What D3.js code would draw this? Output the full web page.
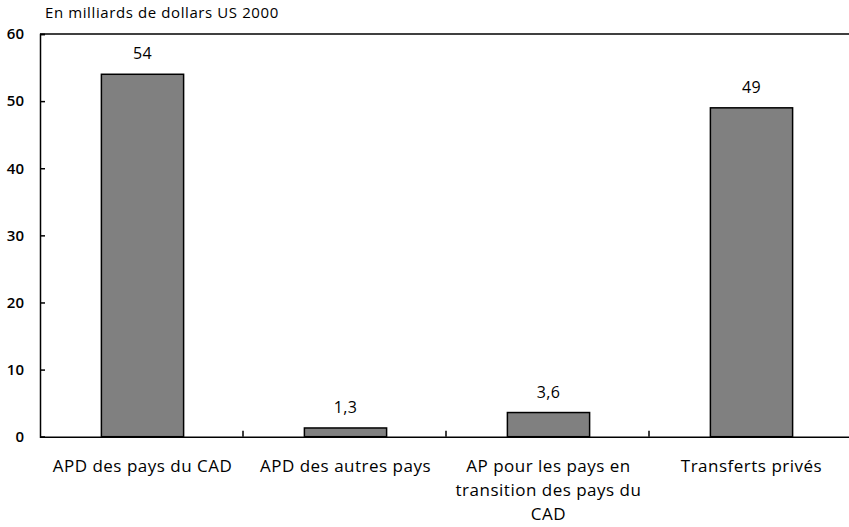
<!DOCTYPE html>
<html><head><meta charset="utf-8">
<script src="https://cdn.jsdelivr.net/npm/d3@7"></script>
<style>body{margin:0;background:#fff}svg{display:block}text{font-family:"Open Sans",sans-serif;fill:#000}</style>
</head><body><svg id="c" width="849" height="527"></svg>
<script>
const categories = ["APD des pays du CAD", "APD des autres pays", "AP pour les pays en\ntransition des pays du\nCAD", "Transferts privés"];
const values = [54, 1.3, 3.6, 49];
const valueLabels = ["54", "1,3", "3,6", "49"];
const yTicks = [0, 10, 20, 30, 40, 50, 60];
const unitLabel = "En milliards de dollars US 2000";

(function () {
const svg = d3.select("#c");
const pLeft = 40, pRight = 852, pTop = 34, pBottom = 436.7;
const x = d3.scaleBand().domain(categories).range([pLeft, pRight]);
const y = d3.scaleLinear().domain([0, 60]).range([pBottom, pTop]);
const barW = x.bandwidth() * 0.405;

svg.append("line").attr("x1", pLeft).attr("x2", pRight).attr("y1", y(60)).attr("y2", y(60))
  .attr("stroke", "#000").attr("stroke-width", 1.5);

const ya = svg.append("g").attr("transform", `translate(${pLeft},0)`)
  .call(d3.axisLeft(y).tickValues(yTicks).tickSize(-5).tickPadding(16).tickFormat(d3.format("d")));
ya.select(".domain").attr("stroke", "#000").attr("stroke-width", 1.5);
ya.selectAll(".tick line").attr("stroke", "#000").attr("stroke-width", 1.5);
ya.selectAll(".tick text").attr("font-size", 15).attr("font-family", "Open Sans").attr("font-weight", 600);

svg.selectAll("rect.bar").data(values).enter().append("rect").attr("class", "bar")
  .attr("x", (d, i) => x(categories[i]) + x.bandwidth() / 2 - barW / 2 + 1)
  .attr("width", barW)
  .attr("y", d => y(d))
  .attr("height", d => y(0) - y(d))
  .attr("fill", "#808080").attr("stroke", "#000").attr("stroke-width", 1.5);

const xa = svg.append("g").attr("transform", `translate(0,${pBottom})`)
  .call(d3.axisBottom(x).tickSize(0).tickFormat(""));
xa.select(".domain").attr("stroke", "#000").attr("stroke-width", 1.5);
xa.selectAll(".tick").remove();
svg.selectAll("line.sep").data(categories.slice(1)).enter().append("line").attr("class", "sep")
  .attr("x1", d => x(d)).attr("x2", d => x(d)).attr("y1", pBottom).attr("y2", pBottom - 6)
  .attr("stroke", "#000").attr("stroke-width", 1.5);

categories.forEach((c, i) => {
  const cx = x(c) + x.bandwidth() / 2 + 1;
  const t = svg.append("text").attr("text-anchor", "middle").attr("font-size", 17)
    .attr("letter-spacing", 0.5).attr("x", cx).attr("y", 472);
  c.split("\n").forEach((ln, j) => t.append("tspan").attr("x", cx).attr("dy", j ? 24 : 0).text(ln));
});

svg.selectAll("text.val").data(values).enter().append("text").attr("class", "val")
  .attr("text-anchor", "middle").attr("font-size", 16).attr("letter-spacing", 0.4)
  .attr("x", (d, i) => x(categories[i]) + x.bandwidth() / 2 + 1)
  .attr("y", d => y(d) - 15)
  .text((d, i) => valueLabels[i]);

svg.append("text").attr("x", 45).attr("y", 18).attr("font-size", 15).attr("letter-spacing", 0.6).text(unitLabel);
})();
</script></body></html>
